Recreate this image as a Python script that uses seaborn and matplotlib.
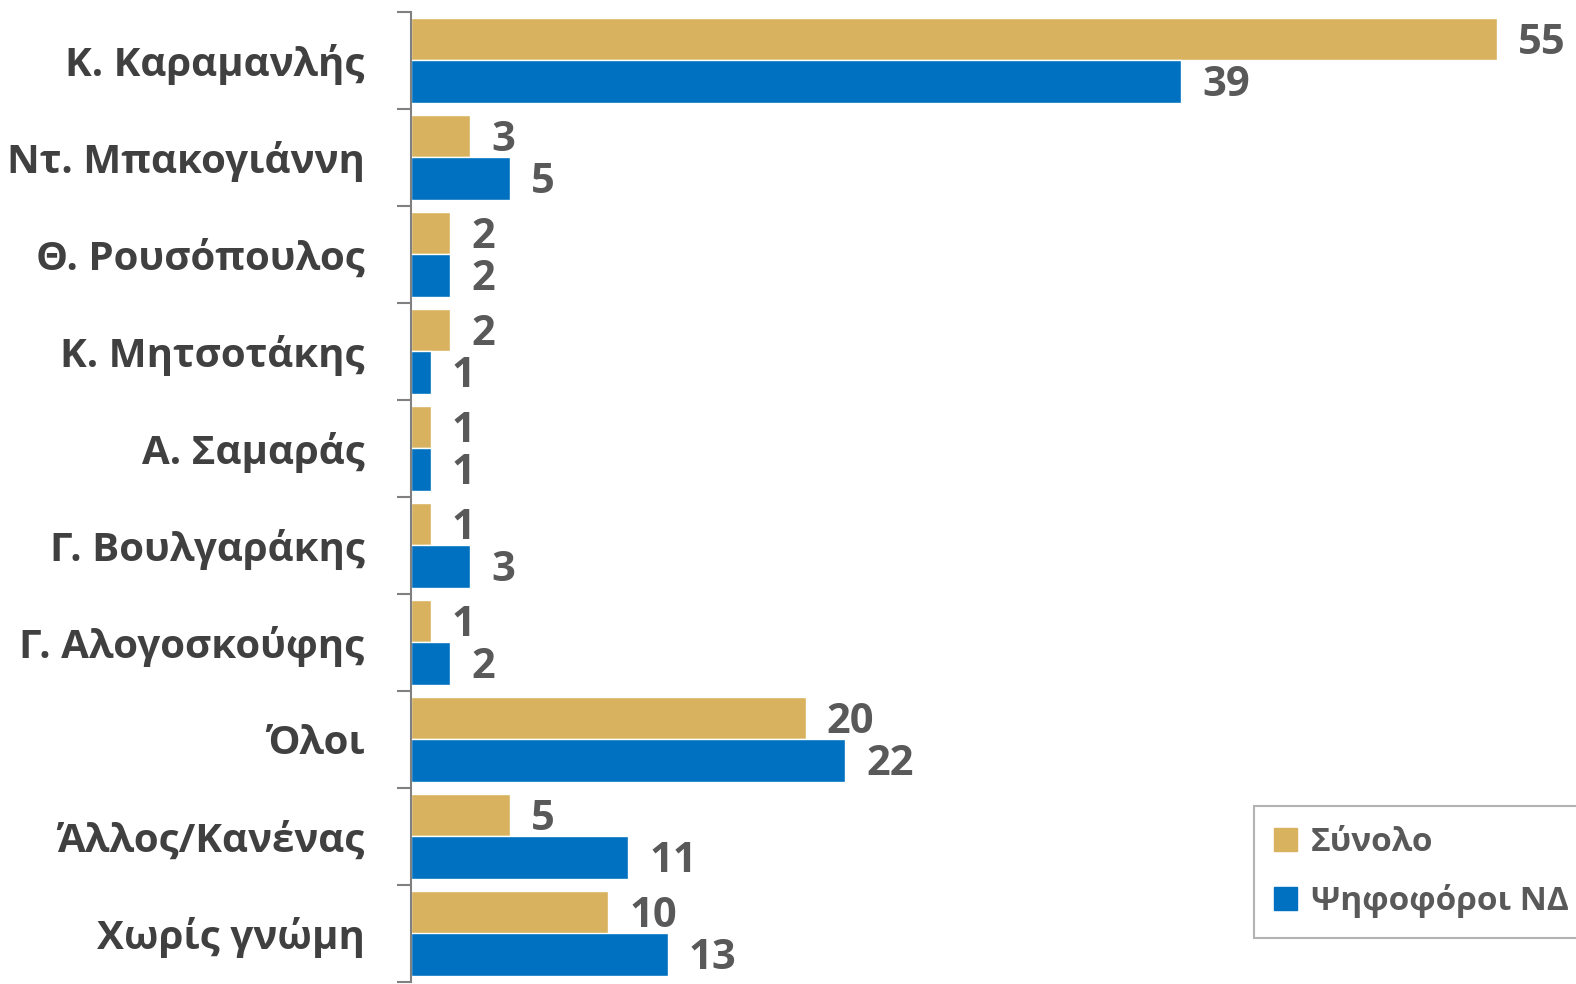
import pandas as pd
import numpy as np
import matplotlib.pyplot as plt
import seaborn as sns

categories = ['Κ. Καραμανλής', 'Ντ. Μπακογιάννη', 'Θ. Ρουσόπουλος', 'Κ. Μητσοτάκης',
              'Α. Σαμαράς', 'Γ. Βουλγαράκης', 'Γ. Αλογοσκούφης', 'Όλοι',
              'Άλλος/Κανένας', 'Χωρίς γνώμη']
synolo = [55, 3, 2, 2, 1, 1, 1, 20, 5, 10]
psifoforoi_nd = [39, 5, 2, 1, 1, 3, 2, 22, 11, 13]
series_names = ['Σύνολο', 'Ψηφοφόροι ΝΔ']
colors = ['#D8B25E', '#0070C0']

df = pd.DataFrame({
    'cat': categories * 2,
    'val': synolo + psifoforoi_nd,
    'series': [series_names[0]] * len(categories) + [series_names[1]] * len(categories),
})

sns.set_style('white')
plt.rcParams['font.family'] = ['Open Sans', 'DejaVu Sans']
plt.rcParams['font.weight'] = 'bold'

fig = plt.figure(figsize=(15.76, 9.84), dpi=100)
ax = fig.add_axes([411 / 1576, 2 / 984, 1 - 411 / 1576, 970 / 984])

sns.barplot(data=df, x='val', y='cat', hue='series', orient='h', palette=colors,
            width=0.87, gap=0, saturation=1, ax=ax, legend=False)

ax.set_xlim(0, 59)
ax.set_ylim(9.5, -0.5)
ax.set_xlabel('')
ax.set_ylabel('')
ax.set_xticks([])
for s in ['top', 'right', 'bottom']:
    ax.spines[s].set_visible(False)
ax.spines['left'].set_color('#808080')
ax.spines['left'].set_linewidth(1.5)

ax.set_yticks(range(len(categories)))
ax.set_yticklabels(categories, fontsize=29, fontweight='bold', color='#404040')
ax.tick_params(axis='y', which='major', left=False, pad=30)
ax.set_yticks(np.arange(-0.5, len(categories), 1), minor=True)
ax.tick_params(axis='y', which='minor', left=True, length=10, width=1.5, color='#808080')

for cont in ax.containers:
    labels = ax.bar_label(cont, fmt='%d', fontsize=30, fontweight='bold', color='#595959')
    for t in labels:
        t.xyann = (15, -3)

handles = [plt.Rectangle((0, 0), 1, 1, color=c) for c in colors]
leg = fig.legend(handles, series_names, loc='upper left', bbox_to_anchor=(1254 / 1576, 1 - 806 / 984),
                 frameon=True, fancybox=False, edgecolor='#A0A0A0',
                 prop={'weight': 'bold', 'size': 24}, labelcolor='#595959',
                 handlelength=0.7, handleheight=0.7, handletextpad=0.4, labelspacing=0.75,
                 borderpad=0.6, borderaxespad=0)
leg.get_frame().set_linewidth(1.5)

fig.savefig('out.png', dpi=100)
